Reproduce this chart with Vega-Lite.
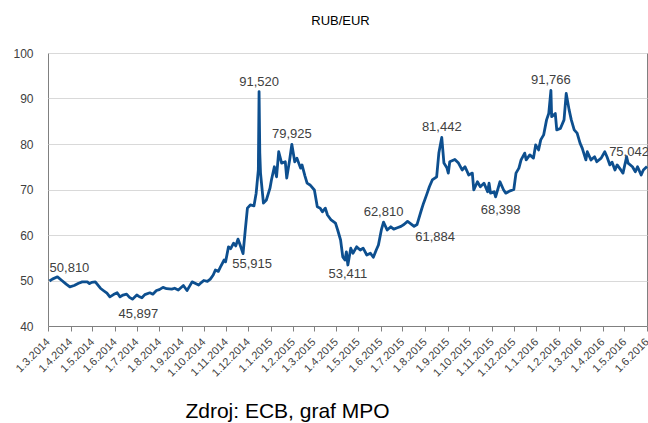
{
  "$schema": "https://vega.github.io/schema/vega-lite/v6.json",
  "autosize": {"type": "none"},
  "width": 599,
  "height": 273,
  "padding": {"left": 48, "top": 53, "right": 1, "bottom": 97},
  "background": "white",
  "title": {"text": "RUB/EUR", "font": "Liberation Sans", "fontSize": 13, "fontWeight": "normal", "color": "#000000", "offset": 19, "dx": -7, "anchor": "middle"},
  "config": {
    "view": {"stroke": "#808080", "strokeWidth": 1},
    "font": "Liberation Sans"
  },
  "datasets": {
    "rates": [
      {"date": "2014-03-03", "v": 49.9}, {"date": "2014-03-07", "v": 50.3}, {"date": "2014-03-14", "v": 50.81},
      {"date": "2014-03-20", "v": 50.0}, {"date": "2014-03-26", "v": 49.2}, {"date": "2014-03-31", "v": 48.6},
      {"date": "2014-04-06", "v": 48.9}, {"date": "2014-04-12", "v": 49.4}, {"date": "2014-04-17", "v": 49.7},
      {"date": "2014-04-24", "v": 49.7}, {"date": "2014-04-27", "v": 49.3}, {"date": "2014-04-30", "v": 49.6},
      {"date": "2014-05-05", "v": 49.7}, {"date": "2014-05-12", "v": 48.3}, {"date": "2014-05-16", "v": 47.8},
      {"date": "2014-05-21", "v": 47.2}, {"date": "2014-05-25", "v": 46.4}, {"date": "2014-05-30", "v": 46.9},
      {"date": "2014-06-04", "v": 47.3}, {"date": "2014-06-08", "v": 46.4}, {"date": "2014-06-12", "v": 46.8},
      {"date": "2014-06-17", "v": 47.0}, {"date": "2014-06-21", "v": 46.3}, {"date": "2014-06-25", "v": 45.897},
      {"date": "2014-07-01", "v": 46.8}, {"date": "2014-07-04", "v": 46.5}, {"date": "2014-07-08", "v": 46.2},
      {"date": "2014-07-12", "v": 46.9}, {"date": "2014-07-19", "v": 47.3}, {"date": "2014-07-23", "v": 47.0},
      {"date": "2014-07-28", "v": 47.8}, {"date": "2014-08-01", "v": 48.0}, {"date": "2014-08-06", "v": 48.5},
      {"date": "2014-08-11", "v": 48.2}, {"date": "2014-08-18", "v": 48.1}, {"date": "2014-08-22", "v": 48.3},
      {"date": "2014-08-27", "v": 47.9}, {"date": "2014-09-03", "v": 48.9}, {"date": "2014-09-08", "v": 47.8},
      {"date": "2014-09-11", "v": 48.6}, {"date": "2014-09-15", "v": 49.7}, {"date": "2014-09-19", "v": 49.4},
      {"date": "2014-09-24", "v": 49.0}, {"date": "2014-09-28", "v": 49.6}, {"date": "2014-10-01", "v": 50.0},
      {"date": "2014-10-06", "v": 49.8}, {"date": "2014-10-10", "v": 50.3}, {"date": "2014-10-14", "v": 51.2},
      {"date": "2014-10-17", "v": 52.3}, {"date": "2014-10-21", "v": 52.0}, {"date": "2014-10-24", "v": 53.0},
      {"date": "2014-10-29", "v": 54.5}, {"date": "2014-10-31", "v": 54.1}, {"date": "2014-11-04", "v": 57.4},
      {"date": "2014-11-07", "v": 57.0}, {"date": "2014-11-11", "v": 58.2}, {"date": "2014-11-14", "v": 57.6},
      {"date": "2014-11-17", "v": 59.1}, {"date": "2014-11-20", "v": 57.8}, {"date": "2014-11-24", "v": 55.915},
      {"date": "2014-11-27", "v": 61.0}, {"date": "2014-11-30", "v": 65.9}, {"date": "2014-12-04", "v": 66.6},
      {"date": "2014-12-09", "v": 66.4}, {"date": "2014-12-12", "v": 69.2}, {"date": "2014-12-15", "v": 74.3},
      {"date": "2014-12-16", "v": 91.52}, {"date": "2014-12-17", "v": 78.0}, {"date": "2014-12-18", "v": 73.6},
      {"date": "2014-12-22", "v": 67.0}, {"date": "2014-12-26", "v": 67.7}, {"date": "2014-12-31", "v": 70.3},
      {"date": "2015-01-02", "v": 72.1}, {"date": "2015-01-06", "v": 75.0}, {"date": "2015-01-09", "v": 72.8},
      {"date": "2015-01-12", "v": 78.3}, {"date": "2015-01-16", "v": 75.8}, {"date": "2015-01-21", "v": 76.1},
      {"date": "2015-01-23", "v": 72.5}, {"date": "2015-01-27", "v": 76.5}, {"date": "2015-01-30", "v": 79.925},
      {"date": "2015-02-03", "v": 76.1}, {"date": "2015-02-06", "v": 76.9}, {"date": "2015-02-11", "v": 74.7},
      {"date": "2015-02-13", "v": 75.4}, {"date": "2015-02-17", "v": 73.0}, {"date": "2015-02-20", "v": 71.4},
      {"date": "2015-02-24", "v": 71.0}, {"date": "2015-03-02", "v": 69.9}, {"date": "2015-03-06", "v": 66.2},
      {"date": "2015-03-10", "v": 65.9}, {"date": "2015-03-13", "v": 65.1}, {"date": "2015-03-17", "v": 65.9},
      {"date": "2015-03-20", "v": 64.4}, {"date": "2015-03-25", "v": 63.3}, {"date": "2015-03-31", "v": 62.6},
      {"date": "2015-04-03", "v": 61.1}, {"date": "2015-04-07", "v": 58.9}, {"date": "2015-04-10", "v": 55.2},
      {"date": "2015-04-13", "v": 54.5}, {"date": "2015-04-15", "v": 56.3}, {"date": "2015-04-17", "v": 53.411},
      {"date": "2015-04-21", "v": 57.1}, {"date": "2015-04-24", "v": 56.0}, {"date": "2015-04-29", "v": 57.4},
      {"date": "2015-05-04", "v": 56.7}, {"date": "2015-05-08", "v": 57.1}, {"date": "2015-05-13", "v": 55.6},
      {"date": "2015-05-18", "v": 56.0}, {"date": "2015-05-22", "v": 55.1}, {"date": "2015-05-26", "v": 56.7},
      {"date": "2015-05-29", "v": 57.8}, {"date": "2015-06-02", "v": 61.1}, {"date": "2015-06-05", "v": 62.81},
      {"date": "2015-06-10", "v": 61.1}, {"date": "2015-06-15", "v": 61.8}, {"date": "2015-06-19", "v": 61.3},
      {"date": "2015-06-24", "v": 61.6}, {"date": "2015-06-29", "v": 61.9}, {"date": "2015-07-03", "v": 62.3},
      {"date": "2015-07-08", "v": 63.0}, {"date": "2015-07-13", "v": 62.4}, {"date": "2015-07-17", "v": 61.884},
      {"date": "2015-07-21", "v": 62.3}, {"date": "2015-07-27", "v": 65.5}, {"date": "2015-07-30", "v": 67.0},
      {"date": "2015-08-04", "v": 69.2}, {"date": "2015-08-07", "v": 70.6}, {"date": "2015-08-11", "v": 72.1},
      {"date": "2015-08-17", "v": 72.8}, {"date": "2015-08-20", "v": 78.0}, {"date": "2015-08-24", "v": 81.442},
      {"date": "2015-08-27", "v": 75.8}, {"date": "2015-08-31", "v": 74.8}, {"date": "2015-09-02", "v": 73.6},
      {"date": "2015-09-04", "v": 76.1}, {"date": "2015-09-11", "v": 76.6}, {"date": "2015-09-16", "v": 75.8},
      {"date": "2015-09-21", "v": 74.3}, {"date": "2015-09-25", "v": 75.0}, {"date": "2015-09-30", "v": 73.2},
      {"date": "2015-10-05", "v": 73.6}, {"date": "2015-10-07", "v": 69.9}, {"date": "2015-10-12", "v": 71.7},
      {"date": "2015-10-16", "v": 70.6}, {"date": "2015-10-21", "v": 71.4}, {"date": "2015-10-26", "v": 69.5},
      {"date": "2015-10-28", "v": 71.4}, {"date": "2015-10-30", "v": 69.2}, {"date": "2015-11-04", "v": 69.5},
      {"date": "2015-11-06", "v": 68.398}, {"date": "2015-11-12", "v": 71.7}, {"date": "2015-11-17", "v": 69.9},
      {"date": "2015-11-20", "v": 69.2}, {"date": "2015-11-26", "v": 69.7}, {"date": "2015-12-01", "v": 70.0},
      {"date": "2015-12-04", "v": 73.6}, {"date": "2015-12-08", "v": 74.7}, {"date": "2015-12-11", "v": 76.5},
      {"date": "2015-12-16", "v": 78.0}, {"date": "2015-12-18", "v": 76.5}, {"date": "2015-12-23", "v": 77.6},
      {"date": "2015-12-28", "v": 76.9}, {"date": "2015-12-31", "v": 79.8}, {"date": "2016-01-04", "v": 78.7},
      {"date": "2016-01-07", "v": 80.9}, {"date": "2016-01-11", "v": 82.0}, {"date": "2016-01-15", "v": 85.3},
      {"date": "2016-01-18", "v": 86.7}, {"date": "2016-01-21", "v": 91.766}, {"date": "2016-01-22", "v": 86.0},
      {"date": "2016-01-27", "v": 86.7}, {"date": "2016-01-29", "v": 83.1}, {"date": "2016-02-03", "v": 83.4},
      {"date": "2016-02-08", "v": 85.3}, {"date": "2016-02-11", "v": 91.1}, {"date": "2016-02-15", "v": 87.5},
      {"date": "2016-02-18", "v": 85.3}, {"date": "2016-02-22", "v": 83.1}, {"date": "2016-02-26", "v": 82.4},
      {"date": "2016-03-01", "v": 80.2}, {"date": "2016-03-04", "v": 79.1}, {"date": "2016-03-09", "v": 76.5},
      {"date": "2016-03-11", "v": 78.3}, {"date": "2016-03-16", "v": 76.5}, {"date": "2016-03-21", "v": 77.2},
      {"date": "2016-03-24", "v": 76.1}, {"date": "2016-03-30", "v": 76.9}, {"date": "2016-04-04", "v": 78.3},
      {"date": "2016-04-07", "v": 77.2}, {"date": "2016-04-11", "v": 75.4}, {"date": "2016-04-14", "v": 76.0},
      {"date": "2016-04-18", "v": 74.3}, {"date": "2016-04-21", "v": 75.4}, {"date": "2016-04-26", "v": 74.3},
      {"date": "2016-04-29", "v": 73.6}, {"date": "2016-05-04", "v": 77.2}, {"date": "2016-05-06", "v": 75.8},
      {"date": "2016-05-12", "v": 75.0}, {"date": "2016-05-16", "v": 73.9}, {"date": "2016-05-19", "v": 75.0},
      {"date": "2016-05-24", "v": 73.2}, {"date": "2016-05-27", "v": 74.3}, {"date": "2016-06-01", "v": 75.042}
    ],
    "notes": [
      {"date": "2014-03-14", "v": 50.81, "label": "50,810"},
      {"date": "2014-06-25", "v": 45.897, "label": "45,897"},
      {"date": "2014-11-24", "v": 55.915, "label": "55,915"},
      {"date": "2014-12-16", "v": 91.52, "label": "91,520"},
      {"date": "2015-01-30", "v": 79.925, "label": "79,925"},
      {"date": "2015-04-17", "v": 53.411, "label": "53,411"},
      {"date": "2015-06-05", "v": 62.81, "label": "62,810"},
      {"date": "2015-07-17", "v": 61.884, "label": "61,884"},
      {"date": "2015-08-24", "v": 81.442, "label": "81,442"},
      {"date": "2015-11-06", "v": 68.398, "label": "68,398"},
      {"date": "2016-01-21", "v": 91.766, "label": "91,766"},
      {"date": "2016-06-01", "v": 75.042, "label": "75,042"}
    ]
  },
  "encoding": {
    "x": {
      "field": "date", "type": "temporal",
      "scale": {"type": "utc", "domain": [{"year": 2014, "month": 3, "date": 1, "utc": true}, {"year": 2016, "month": 6, "date": 1, "utc": true}], "nice": false},
      "axis": {
        "title": "Zdroj: ECB, graf MPO",
        "titleFont": "Liberation Sans", "titleFontSize": 21, "titleFontWeight": "normal", "titleColor": "#000000",
        "titleX": 239, "titleY": 91, "titleAlign": "center", "titleBaseline": "alphabetic", "titleAnchor": null,
        "labelExpr": "utcFormat(datum.value, '%-d.%-m.%Y')",
        "tickCount": {"interval": "month", "step": 1},
        "labelAngle": -45, "labelAlign": "right", "labelBaseline": "middle",
        "labelFont": "Liberation Sans", "labelFontSize": 11, "labelColor": "#404040",
        "labelOverlap": false, "labelFlush": false, "labelPadding": 9, "labelBound": false,
        "grid": false, "ticks": true, "tickSize": 5, "tickColor": "#808080",
        "domain": true, "domainColor": "#808080"
      }
    },
    "y": {
      "field": "v", "type": "quantitative",
      "scale": {"domain": [40, 100], "nice": false, "zero": false},
      "axis": {
        "title": null, "values": [40, 50, 60, 70, 80, 90, 100],
        "labelFont": "Liberation Sans", "labelFontSize": 12, "labelColor": "#404040",
        "labelPadding": 15, "ticks": false, "domain": false,
        "grid": true, "gridColor": "#d9d9d9", "gridWidth": 1
      }
    }
  },
  "layer": [
    {
      "data": {"name": "rates"},
      "mark": {"type": "line", "color": "#0d4f8f", "strokeWidth": 2.8, "strokeJoin": "round"}
    },
    {
      "data": {"name": "notes"},
      "transform": [{"filter": {"field": "label", "oneOf": ["91,520", "79,925", "81,442", "62,810", "91,766"]}}],
      "mark": {"type": "text", "font": "Liberation Sans", "fontSize": 13, "color": "#404040", "baseline": "middle", "dy": -10},
      "encoding": {"text": {"field": "label"}}
    },
    {
      "data": {"name": "notes"},
      "transform": [{"filter": {"field": "label", "equal": "53,411"}}],
      "mark": {"type": "text", "font": "Liberation Sans", "fontSize": 13, "color": "#404040", "baseline": "middle", "dy": 9},
      "encoding": {"text": {"field": "label"}}
    },
    {
      "data": {"name": "notes"},
      "transform": [{"filter": {"field": "label", "equal": "68,398"}}],
      "mark": {"type": "text", "font": "Liberation Sans", "fontSize": 13, "color": "#404040", "baseline": "middle", "dx": 5, "dy": 13},
      "encoding": {"text": {"field": "label"}}
    },
    {
      "data": {"name": "notes"},
      "transform": [{"filter": {"field": "label", "equal": "45,897"}}],
      "mark": {"type": "text", "font": "Liberation Sans", "fontSize": 13, "color": "#404040", "baseline": "middle", "dx": 6, "dy": 15},
      "encoding": {"text": {"field": "label"}}
    },
    {
      "data": {"name": "notes"},
      "transform": [{"filter": {"field": "label", "equal": "55,915"}}],
      "mark": {"type": "text", "font": "Liberation Sans", "fontSize": 13, "color": "#404040", "baseline": "middle", "dx": 9, "dy": 10},
      "encoding": {"text": {"field": "label"}}
    },
    {
      "data": {"name": "notes"},
      "transform": [{"filter": {"field": "label", "equal": "61,884"}}],
      "mark": {"type": "text", "font": "Liberation Sans", "fontSize": 13, "color": "#404040", "baseline": "middle", "dx": 21, "dy": 11},
      "encoding": {"text": {"field": "label"}}
    },
    {
      "data": {"name": "notes"},
      "transform": [{"filter": {"field": "label", "equal": "50,810"}}],
      "mark": {"type": "text", "font": "Liberation Sans", "fontSize": 13, "color": "#404040", "baseline": "middle", "dx": 12, "dy": -9},
      "encoding": {"text": {"field": "label"}}
    },
    {
      "data": {"name": "notes"},
      "transform": [{"filter": {"field": "label", "equal": "75,042"}}],
      "mark": {"type": "text", "font": "Liberation Sans", "fontSize": 13, "color": "#404040", "baseline": "middle", "dx": -18, "dy": -15},
      "encoding": {"text": {"field": "label"}}
    }
  ]
}
